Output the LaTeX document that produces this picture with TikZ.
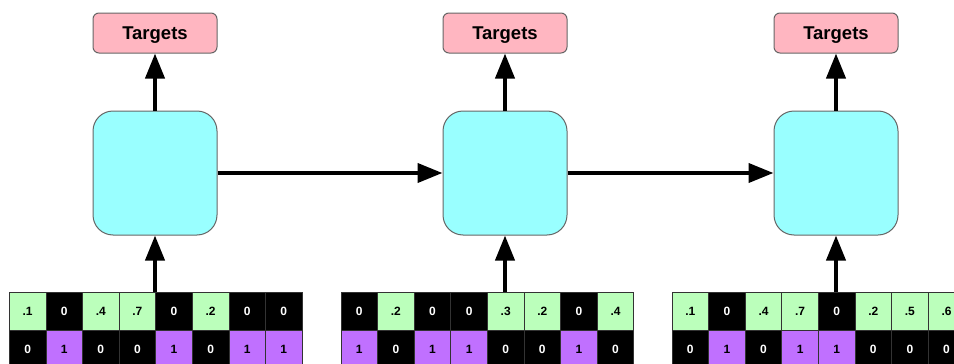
\documentclass[tikz,border=0pt]{standalone}
\usepackage{fontspec}
\setmainfont{Liberation Sans}
\usetikzlibrary{arrows.meta}
\definecolor{cellgreen}{RGB}{187,255,187}
\definecolor{cellpurple}{RGB}{192,112,255}
\definecolor{rnncyan}{RGB}{153,255,255}
\definecolor{tgtpink}{RGB}{255,182,193}
\tikzset{>={Triangle[length=25pt,width=19pt]}}
\tikzset{
  rnnbox/.style={draw=black!60, fill=rnncyan, line width=1pt, rounded corners=20pt, minimum width=124pt, minimum height=124pt},
  tgtbox/.style={draw=black!60, fill=tgtpink, line width=1pt, rounded corners=6pt, minimum width=124pt, minimum height=40pt, text height=13pt, text depth=0pt, font=\bfseries\fontsize{18.5}{20}\selectfont},
  cell/.style={draw=black!80, line width=0.7pt, minimum width=36.6pt, minimum height=38.5pt, inner sep=0pt, font=\bfseries\fontsize{12}{14}\selectfont},
  link/.style={->, line width=4pt}
}

\begin{document}
\begin{tikzpicture}[x=1pt, y=-1pt]
    \useasboundingbox (0,0) rectangle (954,364);
    \foreach \g/\ax/\xo/\ra/\rb in {1/155/9.3/{.1,0,.4,.7,0,.2,0,0}/{0,1,0,0,1,0,1,1},
        2/505/341/{0,.2,0,0,.3,.2,0,.4}/{1,0,1,1,0,0,1,0},
        3/836/672/{.1,0,.4,.7,0,.2,.5,.6}/{0,1,0,1,1,0,0,0}} {
        \node[rnnbox] (rnn\g) at (\ax,173) {};
        \node[tgtbox] (tgt\g) at (\ax,33) {Targets};
        \coordinate (in\g) at (\ax,292);
        \draw[link] (in\g) -- (rnn\g.south);
        \draw[link] (rnn\g.north) -- (tgt\g.south);
        % input rows
        \foreach \v [count=\i] in \ra {
            \ifdim\v pt=0pt \def\cf{black}\def\ct{white}\else\def\cf{cellgreen}\def\ct{black}\fi
            \node[cell, fill=\cf, text=\ct] (xa\g-\i) at (\xo+\i*36.6-18.3, 311.25) {\v};
        }
        \foreach \v [count=\i] in \rb {
            \ifdim\v pt=0pt \def\cf{black}\def\ct{white}\else\def\cf{cellpurple}\def\ct{black}\fi
            \node[cell, fill=\cf, text=\ct] (xb\g-\i) at (\xo+\i*36.6-18.3, 349.75) {\v};
        }
    }
    \draw[link] (rnn1.east) -- (rnn2.west);
    \draw[link] (rnn2.east) -- (rnn3.west);
\end{tikzpicture}
\end{document}
